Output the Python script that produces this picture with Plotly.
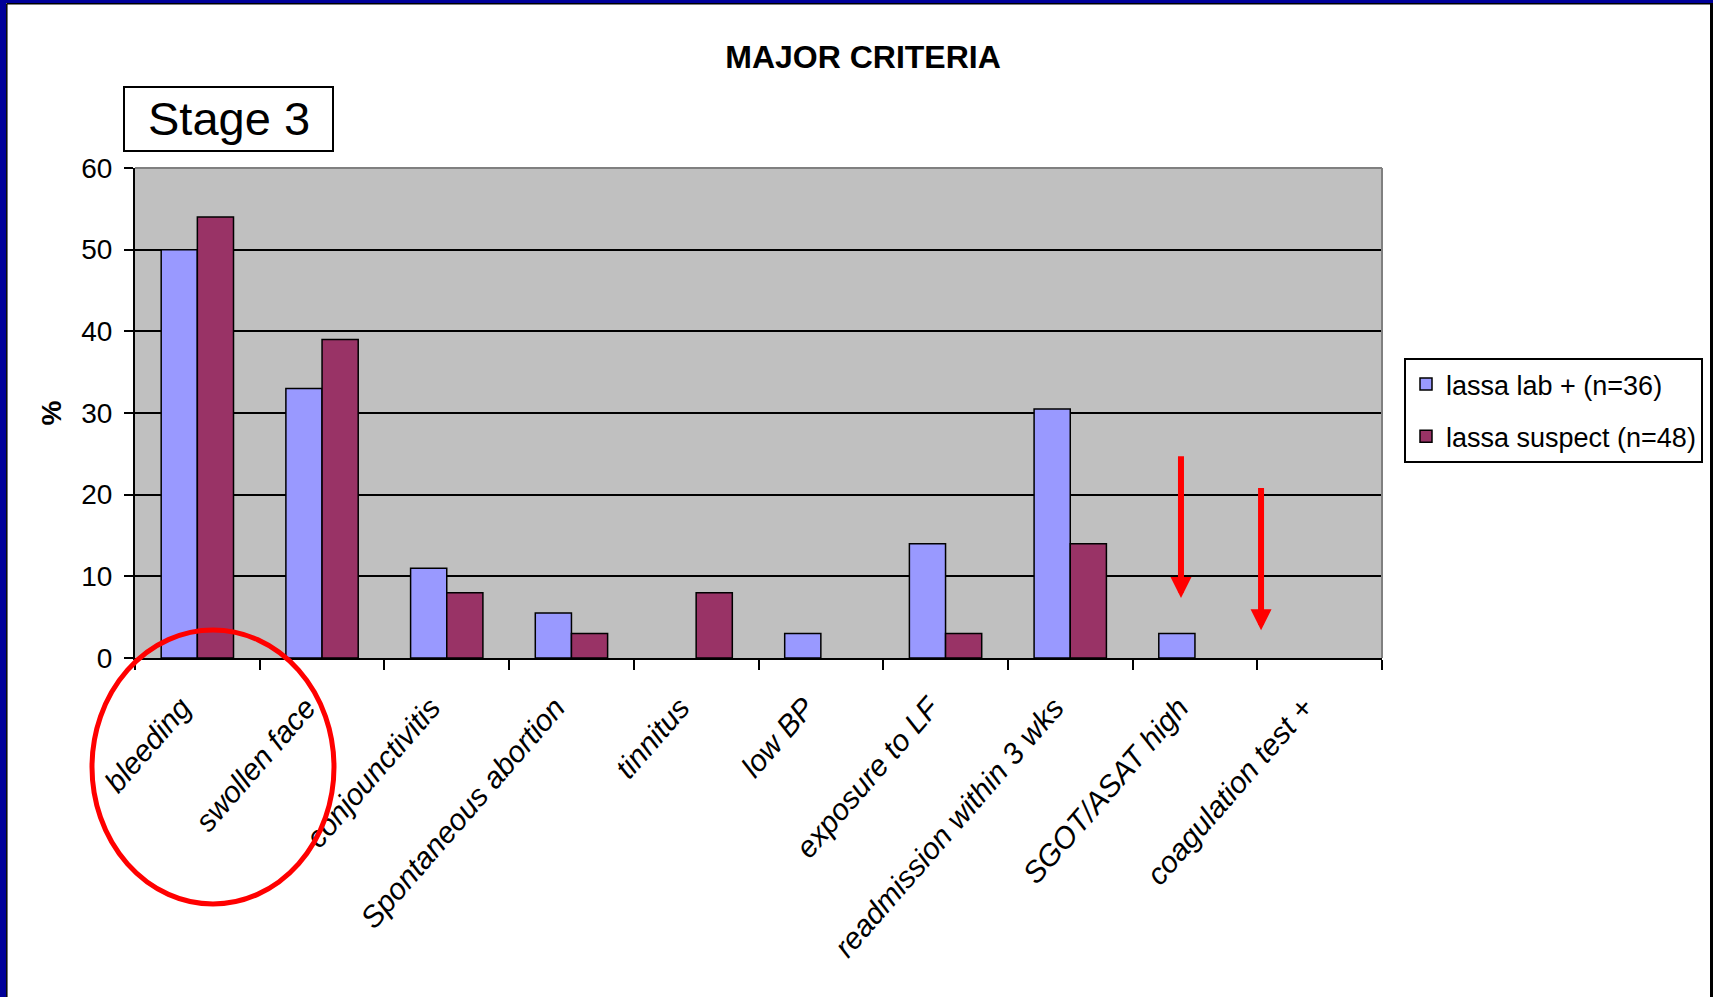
import plotly.graph_objects as go

# ---- data ----
categories = ["bleeding", "swollen face", "conjounctivitis", "Spontaneous abortion",
              "tinnitus", "low BP", "exposure to LF", "readmission within 3 wks",
              "SGOT/ASAT high", "coagulation test +"]
lab_pos = [50, 33, 11, 5.5, None, 3, 14, 30.5, 3, None]
suspect = [54, 39, 8, 3, 8, None, 3, 14, None, None]
series_names = ["lassa lab + (n=36)", "lassa suspect (n=48)"]
y_ticks = [0, 10, 20, 30, 40, 50, 60]

# ---- layout geometry (pixels) ----
W, H = 1713, 997
L, R, T, B = 135, 1382, 168, 658
FONT = "Liberation Sans, Arial, sans-serif"


def px_x(p):
    return (p - L) / (R - L)


def px_y(p):
    return (B - p) / (B - T)


fig = go.Figure()
fig.add_trace(go.Bar(x=categories, y=lab_pos, name=series_names[0], legendgroup="a",
                     marker=dict(color="#9999FF", line=dict(color="black", width=1.5))))
fig.add_trace(go.Bar(x=categories, y=suspect, name=series_names[1], legendgroup="b",
                     marker=dict(color="#993366", line=dict(color="black", width=1.5))))

shapes = [
    # gray top and right border of plot area
    dict(type="line", xref="paper", yref="paper", x0=0, x1=1, y0=1, y1=1,
         line=dict(color="#808080", width=2), layer="above"),
    dict(type="line", xref="paper", yref="paper", x0=1, x1=1, y0=0, y1=1,
         line=dict(color="#808080", width=2), layer="above"),
    # Stage 3 box
    dict(type="rect", xref="paper", yref="paper", x0=px_x(124), x1=px_x(333),
         y0=px_y(151), y1=px_y(87), line=dict(color="black", width=2), fillcolor="white"),
    # red ellipse
    dict(type="circle", xref="paper", yref="paper", x0=px_x(92), x1=px_x(334),
         y0=px_y(904), y1=px_y(630), line=dict(color="#FF0000", width=5)),
    # slide frame: blue left / top strips, black lines
    dict(type="rect", xref="paper", yref="paper", x0=px_x(0), x1=px_x(6),
         y0=px_y(H), y1=px_y(0), line=dict(width=0), fillcolor="#000099"),
    dict(type="rect", xref="paper", yref="paper", x0=px_x(0), x1=px_x(W),
         y0=px_y(3), y1=px_y(0), line=dict(width=0), fillcolor="#000099"),
    dict(type="line", xref="paper", yref="paper", x0=px_x(6.8), x1=px_x(6.8),
         y0=px_y(H), y1=px_y(3.5), line=dict(color="black", width=1.5)),
    dict(type="line", xref="paper", yref="paper", x0=px_x(6.8), x1=px_x(W),
         y0=px_y(3.8), y1=px_y(3.8), line=dict(color="black", width=1.5)),
    dict(type="line", xref="paper", yref="paper", x0=px_x(1711.5), x1=px_x(1711.5),
         y0=px_y(H), y1=px_y(3.5), line=dict(color="black", width=3)),
]

annotations = [
    dict(text="Stage 3", xref="paper", yref="paper", x=px_x(228.5), y=px_y(119),
         xanchor="center", yanchor="middle", showarrow=False,
         font=dict(family=FONT, size=47, color="black")),
    # red arrows
    dict(text="", x=7.888, y=7.35, ax=7.888, ay=24.9, xref="x", yref="y",
         axref="x", ayref="y", showarrow=True, arrowhead=2, arrowsize=0.7,
         arrowwidth=6, arrowcolor="#FF0000", standoff=0),
    dict(text="", x=8.53, y=3.4, ax=8.53, ay=21.0, xref="x", yref="y",
         axref="x", ayref="y", showarrow=True, arrowhead=2, arrowsize=0.7,
         arrowwidth=6, arrowcolor="#FF0000", standoff=0),
]

fig.update_layout(
    width=W, height=H,
    margin=dict(l=L, r=W - R, t=T, b=H - B, autoexpand=False),
    paper_bgcolor="white", plot_bgcolor="#C0C0C0",
    barmode="group", bargap=0.42, bargroupgap=0,
    font=dict(family=FONT, color="black", size=27),
    title=dict(text="MAJOR CRITERIA", x=863 / W, y=1 - 57 / H, xanchor="center",
               yanchor="middle", xref="container", yref="container",
               font=dict(family=FONT, size=32, color="black", weight="bold")),
    showlegend=True,
    legend=dict(x=px_x(1404), y=px_y(358), xanchor="left", yanchor="top",
                bgcolor="white", bordercolor="black", borderwidth=2,
                font=dict(family=FONT, size=27, color="black"),
                traceorder="grouped", tracegroupgap=14),
    shapes=shapes,
    annotations=annotations,
)

fig.update_xaxes(type="category", showgrid=False, showline=True, linecolor="black",
                 linewidth=2, ticks="outside", tickson="boundaries", ticklen=10,
                 tickwidth=2, tickcolor="black", tickangle=-49,
                 ticklabelstandoff=18, ticklabelshift=-16,
                 tickfont=dict(family=FONT, size=30, color="black", style="italic"),
                 range=[-0.5, 9.5], zeroline=False)
fig.update_yaxes(range=[0, 60], tickvals=y_ticks, showgrid=True, gridcolor="black",
                 gridwidth=2, showline=True, linecolor="black", linewidth=2,
                 ticks="outside", ticklen=9, tickwidth=2, tickcolor="black",
                 tickfont=dict(family=FONT, size=28, color="black"),
                 ticklabelstandoff=6, zeroline=False,
                 title=dict(text="%", standoff=11,
                            font=dict(family=FONT, size=28, color="black", weight="bold")))

fig.write_html("out.html")
